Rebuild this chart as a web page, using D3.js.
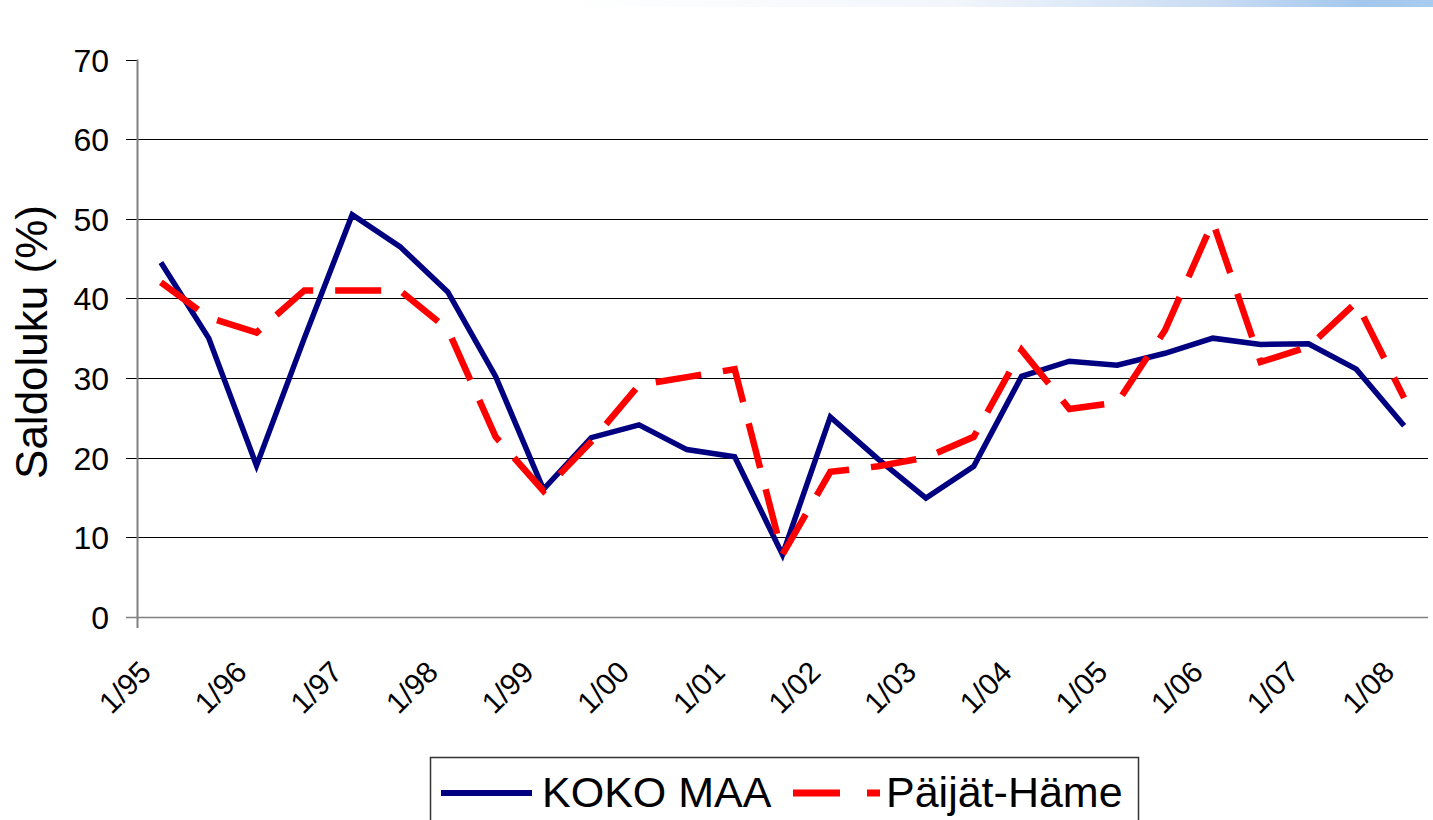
<!DOCTYPE html>
<html>
<head>
<meta charset="utf-8">
<script src="https://cdn.jsdelivr.net/npm/d3@7"></script>
<style>
  html, body { margin: 0; padding: 0; background: #fff; }
  svg { display: block; }
  text { font-family: "Liberation Sans", Arial, sans-serif; fill: #000; }
</style>
</head>
<body>
<svg id="chart" width="1433" height="820"></svg>
<script>
// ---- Data ----
const periods = ["1/95","7/95","1/96","7/96","1/97","7/97","1/98","7/98","1/99","7/99",
  "1/00","7/00","1/01","7/01","1/02","7/02","1/03","7/03","1/04","7/04",
  "1/05","7/05","1/06","7/06","1/07","7/07","1/08"];
const tickLabels = ["1/95","1/96","1/97","1/98","1/99","1/00","1/01","1/02","1/03","1/04","1/05","1/06","1/07","1/08"];
const kokoMaa = [44.5, 35.0, 19.0, 35.0, 50.5, 46.5, 40.8, 30.2, 16.0, 22.5,
  24.1, 21.0, 20.1, 7.8, 25.1, 19.8, 14.9, 18.9, 30.2, 32.1,
  31.6, 33.1, 35.0, 34.2, 34.3, 31.1, 24.0];
const paijatHame = [42.0, 37.6, 35.7, 41.0, 41.0, 41.0, 36.1, 22.6, 15.8, 22.0,
  29.1, 30.1, 31.1, 7.8, 18.2, 18.9, 20.0, 22.6, 33.5, 26.1,
  26.9, 36.0, 49.6, 32.0, 33.9, 39.5, 27.5];
const yTicks = [0, 10, 20, 30, 40, 50, 60, 70];
const seriesNames = ["KOKO MAA", "Päijät-Häme"];

// ---- Layout ----
const svg = d3.select("#chart");
const pLeft = 137, pRight = 1428, pTop = 59.6, pBottom = 616.7;

// top decorative gradient strip
const defs = svg.append("defs");
const grad = defs.append("linearGradient").attr("id", "topgrad")
  .attr("x1", "0%").attr("x2", "100%").attr("y1", "0%").attr("y2", "0%");
grad.append("stop").attr("offset", "0%").attr("stop-color", "#ffffff");
grad.append("stop").attr("offset", "45%").attr("stop-color", "#f2f6fb");
grad.append("stop").attr("offset", "75%").attr("stop-color", "#c9dcf3");
grad.append("stop").attr("offset", "92%").attr("stop-color", "#a3c7ec");
grad.append("stop").attr("offset", "100%").attr("stop-color", "#a8ccef");
svg.append("rect").attr("x", 560).attr("y", 0).attr("width", 873).attr("height", 7)
  .attr("fill", "url(#topgrad)");

const x = d3.scalePoint().domain(periods).range([pLeft, pRight]).padding(0.5);
const y = d3.scaleLinear().domain([0, 70]).range([pBottom, pTop]);

// gridlines
svg.append("g").selectAll("line").data(yTicks.filter(d => d > 0 && d < 70)).join("line")
  .attr("x1", 126).attr("x2", pRight)
  .attr("y1", d => Math.round(y(d)) + 0.5).attr("y2", d => Math.round(y(d)) + 0.5)
  .attr("stroke", "#000").attr("stroke-width", 1);
// tick at 70
svg.append("line").attr("x1", 126).attr("x2", pLeft)
  .attr("y1", Math.round(y(70)) + 0.5).attr("y2", Math.round(y(70)) + 0.5)
  .attr("stroke", "#000");
// x axis (0 line)
svg.append("line").attr("x1", 126).attr("x2", pRight)
  .attr("y1", Math.round(y(0)) + 0.5).attr("y2", Math.round(y(0)) + 0.5)
  .attr("stroke", "#808080").attr("stroke-width", 1.5);
// y axis
svg.append("line").attr("x1", pLeft + 0.5).attr("x2", pLeft + 0.5)
  .attr("y1", y(70)).attr("y2", 628)
  .attr("stroke", "#808080").attr("stroke-width", 2);

// y labels
svg.append("g").selectAll("text").data(yTicks).join("text")
  .attr("x", 109).attr("y", d => y(d) + 12)
  .attr("text-anchor", "end").attr("font-size", 32)
  .text(d => d);

// y title
svg.append("text")
  .attr("transform", "translate(47,342) rotate(-90)")
  .attr("text-anchor", "middle").attr("font-size", 44)
  .text("Saldoluku (%)");

// x labels
svg.append("g").selectAll("text").data(tickLabels).join("text")
  .attr("transform", d => `translate(${x(d) - 8},674) rotate(-45)`)
  .attr("text-anchor", "end").attr("font-size", 30)
  .text(d => d);

// lines
const line = d3.line().x((d, i) => x(periods[i])).y(d => y(d));
svg.append("path").datum(kokoMaa).attr("d", line)
  .attr("fill", "none").attr("stroke", "#000080").attr("stroke-width", 5.5)
  .attr("stroke-linejoin", "miter");
svg.append("path").datum(paijatHame).attr("d", line)
  .attr("fill", "none").attr("stroke", "#ff0000").attr("stroke-width", 6.5)
  .attr("stroke-dasharray", "46,22").attr("stroke-linejoin", "miter");

// legend
const lg = svg.append("g");
lg.append("rect").attr("x", 430.5).attr("y", 757.5).attr("width", 708).attr("height", 90)
  .attr("fill", "#fff").attr("stroke", "#333").attr("stroke-width", 1.5);
lg.append("line").attr("x1", 441).attr("x2", 532).attr("y1", 793).attr("y2", 793)
  .attr("stroke", "#000080").attr("stroke-width", 6);
lg.append("text").attr("x", 542).attr("y", 807).attr("font-size", 43).text(seriesNames[0]);
lg.append("line").attr("x1", 793).attr("x2", 880).attr("y1", 793).attr("y2", 793)
  .attr("stroke", "#ff0000").attr("stroke-width", 7).attr("stroke-dasharray", "47,27");
lg.append("text").attr("x", 886).attr("y", 807).attr("font-size", 43).text(seriesNames[1]);
</script>
</body>
</html>
